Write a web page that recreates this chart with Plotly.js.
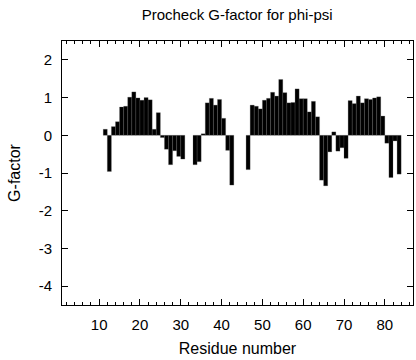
<!DOCTYPE html>
<html>
<head>
<meta charset="utf-8">
<script src="https://cdn.plot.ly/plotly-3.0.1.min.js"></script>
<style>html,body{margin:0;padding:0;background:#fff;}#chart{width:416px;height:360px;}</style>
</head>
<body>
<div id="chart"></div>
<script>
const residues = [11,12,13,14,15,16,17,18,19,20,21,22,23,24,25,26,27,28,29,30,31,32,33,34,35,36,37,38,39,40,41,42,43,44,45,46,47,48,49,50,51,52,53,54,55,56,57,58,59,60,61,62,63,64,65,66,67,68,69,70,71,72,73,74,75,76,77,78,79,80,81,82,83];
const gfactor = [0.16,-0.96,0.23,0.36,0.75,0.77,1.01,1.15,0.99,0.93,1.00,0.94,0.16,0.60,-0.06,-0.37,-0.78,-0.41,-0.56,-0.63,null,null,-0.78,-0.70,0.04,0.86,0.98,0.80,0.95,0.45,-0.40,-1.32,null,null,null,-0.91,0.80,0.77,0.70,0.93,0.98,1.14,1.04,1.48,1.13,0.86,0.87,1.23,0.97,0.97,0.62,0.90,0.49,-1.19,-1.34,-0.44,0.09,-0.42,-0.33,-0.61,0.92,0.84,1.04,0.86,0.97,0.95,0.99,1.02,0.51,-0.21,-1.12,-0.15,-1.03];
const xTickVals = [10,20,30,40,50,60,70,80];
const yTickVals = [-4,-3,-2,-1,0,1,2];

const font = {family: 'Liberation Sans, Arial, sans-serif', color: '#000'};

Plotly.newPlot('chart', [{
  type: 'bar',
  x: residues,
  y: gfactor,
  offset: 0,
  width: 1,
  marker: {color: '#000', line: {color: '#666', width: 0.25}},
  hoverinfo: 'x+y'
}], {
  width: 416, height: 360,
  margin: {l: 62, r: 3, t: 41, b: 55},
  paper_bgcolor: '#fff', plot_bgcolor: '#fff',
  showlegend: false,
  font: Object.assign({size: 15}, font),
  title: {text: 'Procheck G-factor for phi-psi', x: 0.57, xanchor: 'center', y: 0.96, yanchor: 'middle', font: Object.assign({size: 15}, font)},
  bargap: 0,
  xaxis: {
    range: [0.9, 86.9],
    tickvals: xTickVals,
    ticktext: xTickVals.map(String),
    ticks: 'inside', ticklen: 6, tickcolor: '#000', tickwidth: 1,
    minor: {dtick: 2, tick0: 0, ticks: 'inside', ticklen: 3, tickcolor: '#000', showgrid: false},
    showline: true, linecolor: '#000', linewidth: 1, mirror: 'allticks',
    showgrid: false, zeroline: false,
    tickfont: Object.assign({size: 15}, font),
    ticklabelstandoff: 6,
    title: {text: 'Residue number', font: Object.assign({size: 16}, font), standoff: 10}
  },
  yaxis: {
    range: [-4.5, 2.5],
    tickvals: yTickVals,
    ticktext: yTickVals.map(String),
    ticks: 'inside', ticklen: 6, tickcolor: '#000', tickwidth: 1,
    showline: true, linecolor: '#000', linewidth: 1, mirror: 'allticks',
    showgrid: false, zeroline: false,
    tickfont: Object.assign({size: 15}, font),
    ticklabelstandoff: 6,
    title: {text: 'G-factor', font: Object.assign({size: 16}, font), standoff: 14}
  }
}, {staticPlot: true, displayModeBar: false});
</script>
</body>
</html>
